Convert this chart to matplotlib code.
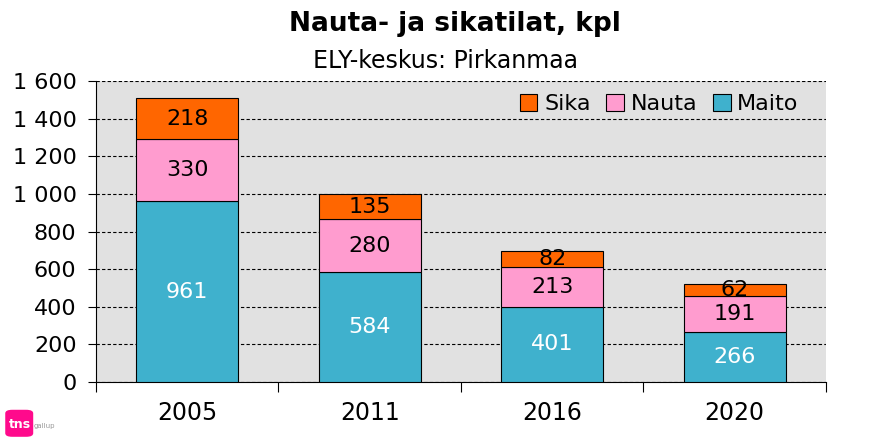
import numpy as np
import matplotlib
matplotlib.use('Agg')
from matplotlib import pyplot as plt
from matplotlib.patches import FancyBboxPatch

years = ['2005', '2011', '2016', '2020']
maito = [961, 584, 401, 266]
nauta = [330, 280, 213, 191]
sika = [218, 135, 82, 62]

c_maito = '#3fb1cd'
c_nauta = '#ff9ccf'
c_sika = '#ff6600'

plt.rcParams['font.family'] = ['Verdana', 'DejaVu Sans']

fig = plt.figure(figsize=(8.74, 4.43), dpi=100)
ax = fig.add_axes([0.1098, 0.1377, 0.8352, 0.6793])
ax.set_facecolor('#e1e1e1')

x = np.arange(len(years))
w = 0.56
b1 = ax.bar(x, maito, w, color=c_maito, edgecolor='black', linewidth=0.8, label='Maito', zorder=3)
b2 = ax.bar(x, nauta, w, bottom=maito, color=c_nauta, edgecolor='black', linewidth=0.8, label='Nauta', zorder=3)
bottom2 = np.array(maito) + np.array(nauta)
b3 = ax.bar(x, sika, w, bottom=bottom2, color=c_sika, edgecolor='black', linewidth=0.8, label='Sika', zorder=3)

fs = 16
for i in range(len(years)):
    ax.text(x[i], maito[i] / 2, str(maito[i]), ha='center', va='center', color='white', fontsize=fs, zorder=4)
    ax.text(x[i], maito[i] + nauta[i] / 2, str(nauta[i]), ha='center', va='center', color='black', fontsize=fs, zorder=4)
    ax.text(x[i], bottom2[i] + sika[i] / 2, str(sika[i]), ha='center', va='center', color='black', fontsize=fs, zorder=4)

ax.set_xlim(-0.5, 3.5)
ax.set_ylim(0, 1600)
yt = np.arange(0, 1601, 200)
ax.set_yticks(yt)
ax.set_yticklabels([f'{v:,}'.replace(',', ' ') for v in yt], fontsize=16)
ax.yaxis.grid(True, linestyle=(0, (3, 2)), color='black', linewidth=0.8, zorder=0)
ax.set_xticks(x)
ax.set_xticklabels(years, fontsize=17)
ax.tick_params(axis='x', length=0, pad=14)
ax.set_xticks(np.arange(-0.5, 3.6, 1), minor=True)
ax.tick_params(axis='x', which='minor', length=7, width=0.8, direction='out')
ax.tick_params(axis='y', length=6, width=0.8, direction='out', pad=8)
for s in ax.spines.values():
    s.set_linewidth(0.8)
ax.spines['top'].set_visible(False)
ax.spines['right'].set_visible(False)

h = [b3, b2, b1]
ax.legend(h, ['Sika', 'Nauta', 'Maito'], loc='upper right', ncol=3, frameon=False,
          fontsize=16, handlelength=0.8, handleheight=0.8, handletextpad=0.3,
          columnspacing=0.7, bbox_to_anchor=(0.99, 1.025))

fig.text(0.52, 0.945, 'Nauta- ja sikatilat, kpl', ha='center', va='center', fontsize=19, fontweight='bold')
fig.text(0.51, 0.862, 'ELY-keskus: Pirkanmaa', ha='center', va='center', fontsize=17)

# logo
logo = FancyBboxPatch((0.006, 0.014), 0.032, 0.061, boxstyle='round,pad=0,rounding_size=0.008',
                      transform=fig.transFigure, facecolor='#ff0a8c', edgecolor='none')
fig.patches.append(logo)
fig.text(0.023, 0.042, 'tns', color='white', fontsize=9, fontweight='bold', ha='center', va='center')
fig.text(0.038, 0.038, 'gallup', color='#999999', fontsize=5, ha='left', va='center')

fig.savefig('out.png', dpi=100)
